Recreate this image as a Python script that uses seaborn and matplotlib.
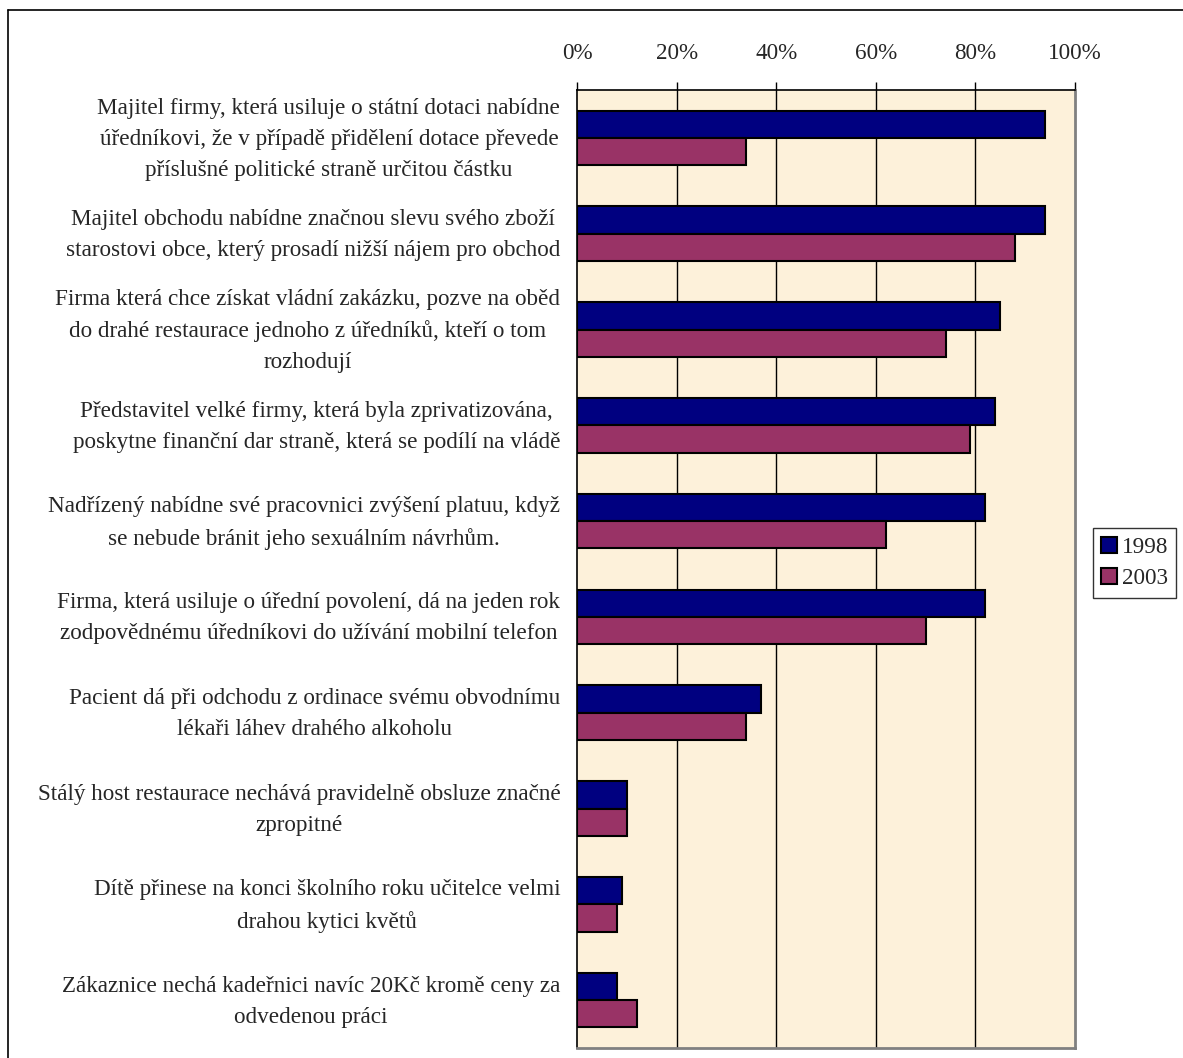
import pandas as pd
import seaborn as sns
import matplotlib.pyplot as plt
import matplotlib.transforms as mtransforms
from matplotlib.lines import Line2D

# categories (top to bottom) and values in %
categories = [
    "Majitel firmy, která usiluje o státní dotaci nabídne\núředníkovi, že v případě přidělení dotace převede\npříslušné politické straně určitou částku",
    "Majitel obchodu nabídne značnou slevu svého zboží\nstarostovi obce, který prosadí nižší nájem pro obchod",
    "Firma která chce získat vládní zakázku, pozve na oběd\ndo drahé restaurace jednoho z úředníků, kteří o tom\nrozhodují",
    "Představitel velké firmy, která byla zprivatizována,\nposkytne finanční dar straně, která se podílí na vládě",
    "Nadřízený nabídne své pracovnici zvýšení platuu, když\nse nebude bránit jeho sexuálním návrhům.",
    "Firma, která usiluje o úřední povolení, dá na jeden rok\nzodpovědnému úředníkovi do užívání mobilní telefon",
    "Pacient dá při odchodu z ordinace svému obvodnímu\nlékaři láhev drahého alkoholu",
    "Stálý host restaurace nechává pravidelně obsluze značné\nzpropitné",
    "Dítě přinese na konci školního roku učitelce velmi\ndrahou kytici květů",
    "Zákaznice nechá kadeřnici navíc 20Kč kromě ceny za\nodvedenou práci",
]
years = ["1998", "2003"]
values_1998 = [94, 94, 85, 84, 82, 82, 37, 10, 9, 8]
values_2003 = [34, 88, 74, 79, 62, 70, 34, 10, 8, 12]
xticks = [0, 20, 40, 60, 80, 100]

df = pd.DataFrame({
    "kategorie": categories * 2,
    "rok": [years[0]] * len(categories) + [years[1]] * len(categories),
    "hodnota": values_1998 + values_2003,
})

sns.set_style("white")
plt.rcParams['font.family'] = ['Liberation Serif', 'DejaVu Serif']

W, H = 1183, 1058
fs = 16.7
fig = plt.figure(figsize=(W / 100, H / 100), dpi=100)
ax = fig.add_axes([577 / W, 1 - 1048 / H, (1075 - 577) / W, (1048 - 90) / H])
ax.set_facecolor("#fdf1da")

sns.barplot(data=df, y="kategorie", x="hodnota", hue="rok", order=categories,
            hue_order=years, palette=["#000080", "#993366"], orient="h",
            width=0.57, edgecolor="black", linewidth=1.5, saturation=1,
            ax=ax, zorder=3)

ax.set_xlim(0, 100)
ax.set_ylim(len(categories) - 0.5, -0.5)
ax.set_xticks(xticks)
ax.set_xticklabels([f"{t}%" for t in xticks])
ax.xaxis.tick_top()
ax.tick_params(axis="x", which="major", direction="out", length=6, width=1,
               color="black", labelsize=fs, pad=13)
for t in xticks[1:-1]:
    ax.axvline(t, color="black", linewidth=1, zorder=1)

ax.set_yticks(range(len(categories)))
ax.set_yticklabels(categories, ha="right", multialignment="center")
ax.tick_params(axis="y", which="major", length=0, labelsize=fs, pad=12)
ax.set_yticks([i - 0.5 for i in range(len(categories) + 1)], minor=True)
ax.tick_params(axis="y", which="minor", direction="out", length=6, width=1,
               color="black")
shift = mtransforms.ScaledTranslation(0, 6 / 100, fig.dpi_scale_trans)
for lab in ax.get_yticklabels():
    lab.set_linespacing(1.62)
    lab.set_transform(lab.get_transform() + shift)

ax.set_xlabel("")
ax.set_ylabel("")
for side in ["top", "left"]:
    ax.spines[side].set_color("black")
    ax.spines[side].set_linewidth(1.2)
for side in ["right", "bottom"]:
    ax.spines[side].set_color("#808080")
    ax.spines[side].set_linewidth(2)

leg = ax.legend(loc="center left", bbox_to_anchor=(1093 / W, 1 - 563 / H),
                bbox_transform=fig.transFigure, fontsize=fs, frameon=True,
                fancybox=False, edgecolor="black", handlelength=0.7,
                handleheight=0.7, handletextpad=0.2, borderpad=0.35,
                labelspacing=0.45, borderaxespad=0)
leg.get_frame().set_linewidth(1)

# outer chart border
fig.add_artist(Line2D([8 / W, 8 / W], [0, 1 - 10 / H], color="black", lw=1.2))
fig.add_artist(Line2D([8 / W, 1], [1 - 10 / H, 1 - 10 / H], color="black", lw=1.2))

fig.savefig("out.png", dpi=100, facecolor="white")
